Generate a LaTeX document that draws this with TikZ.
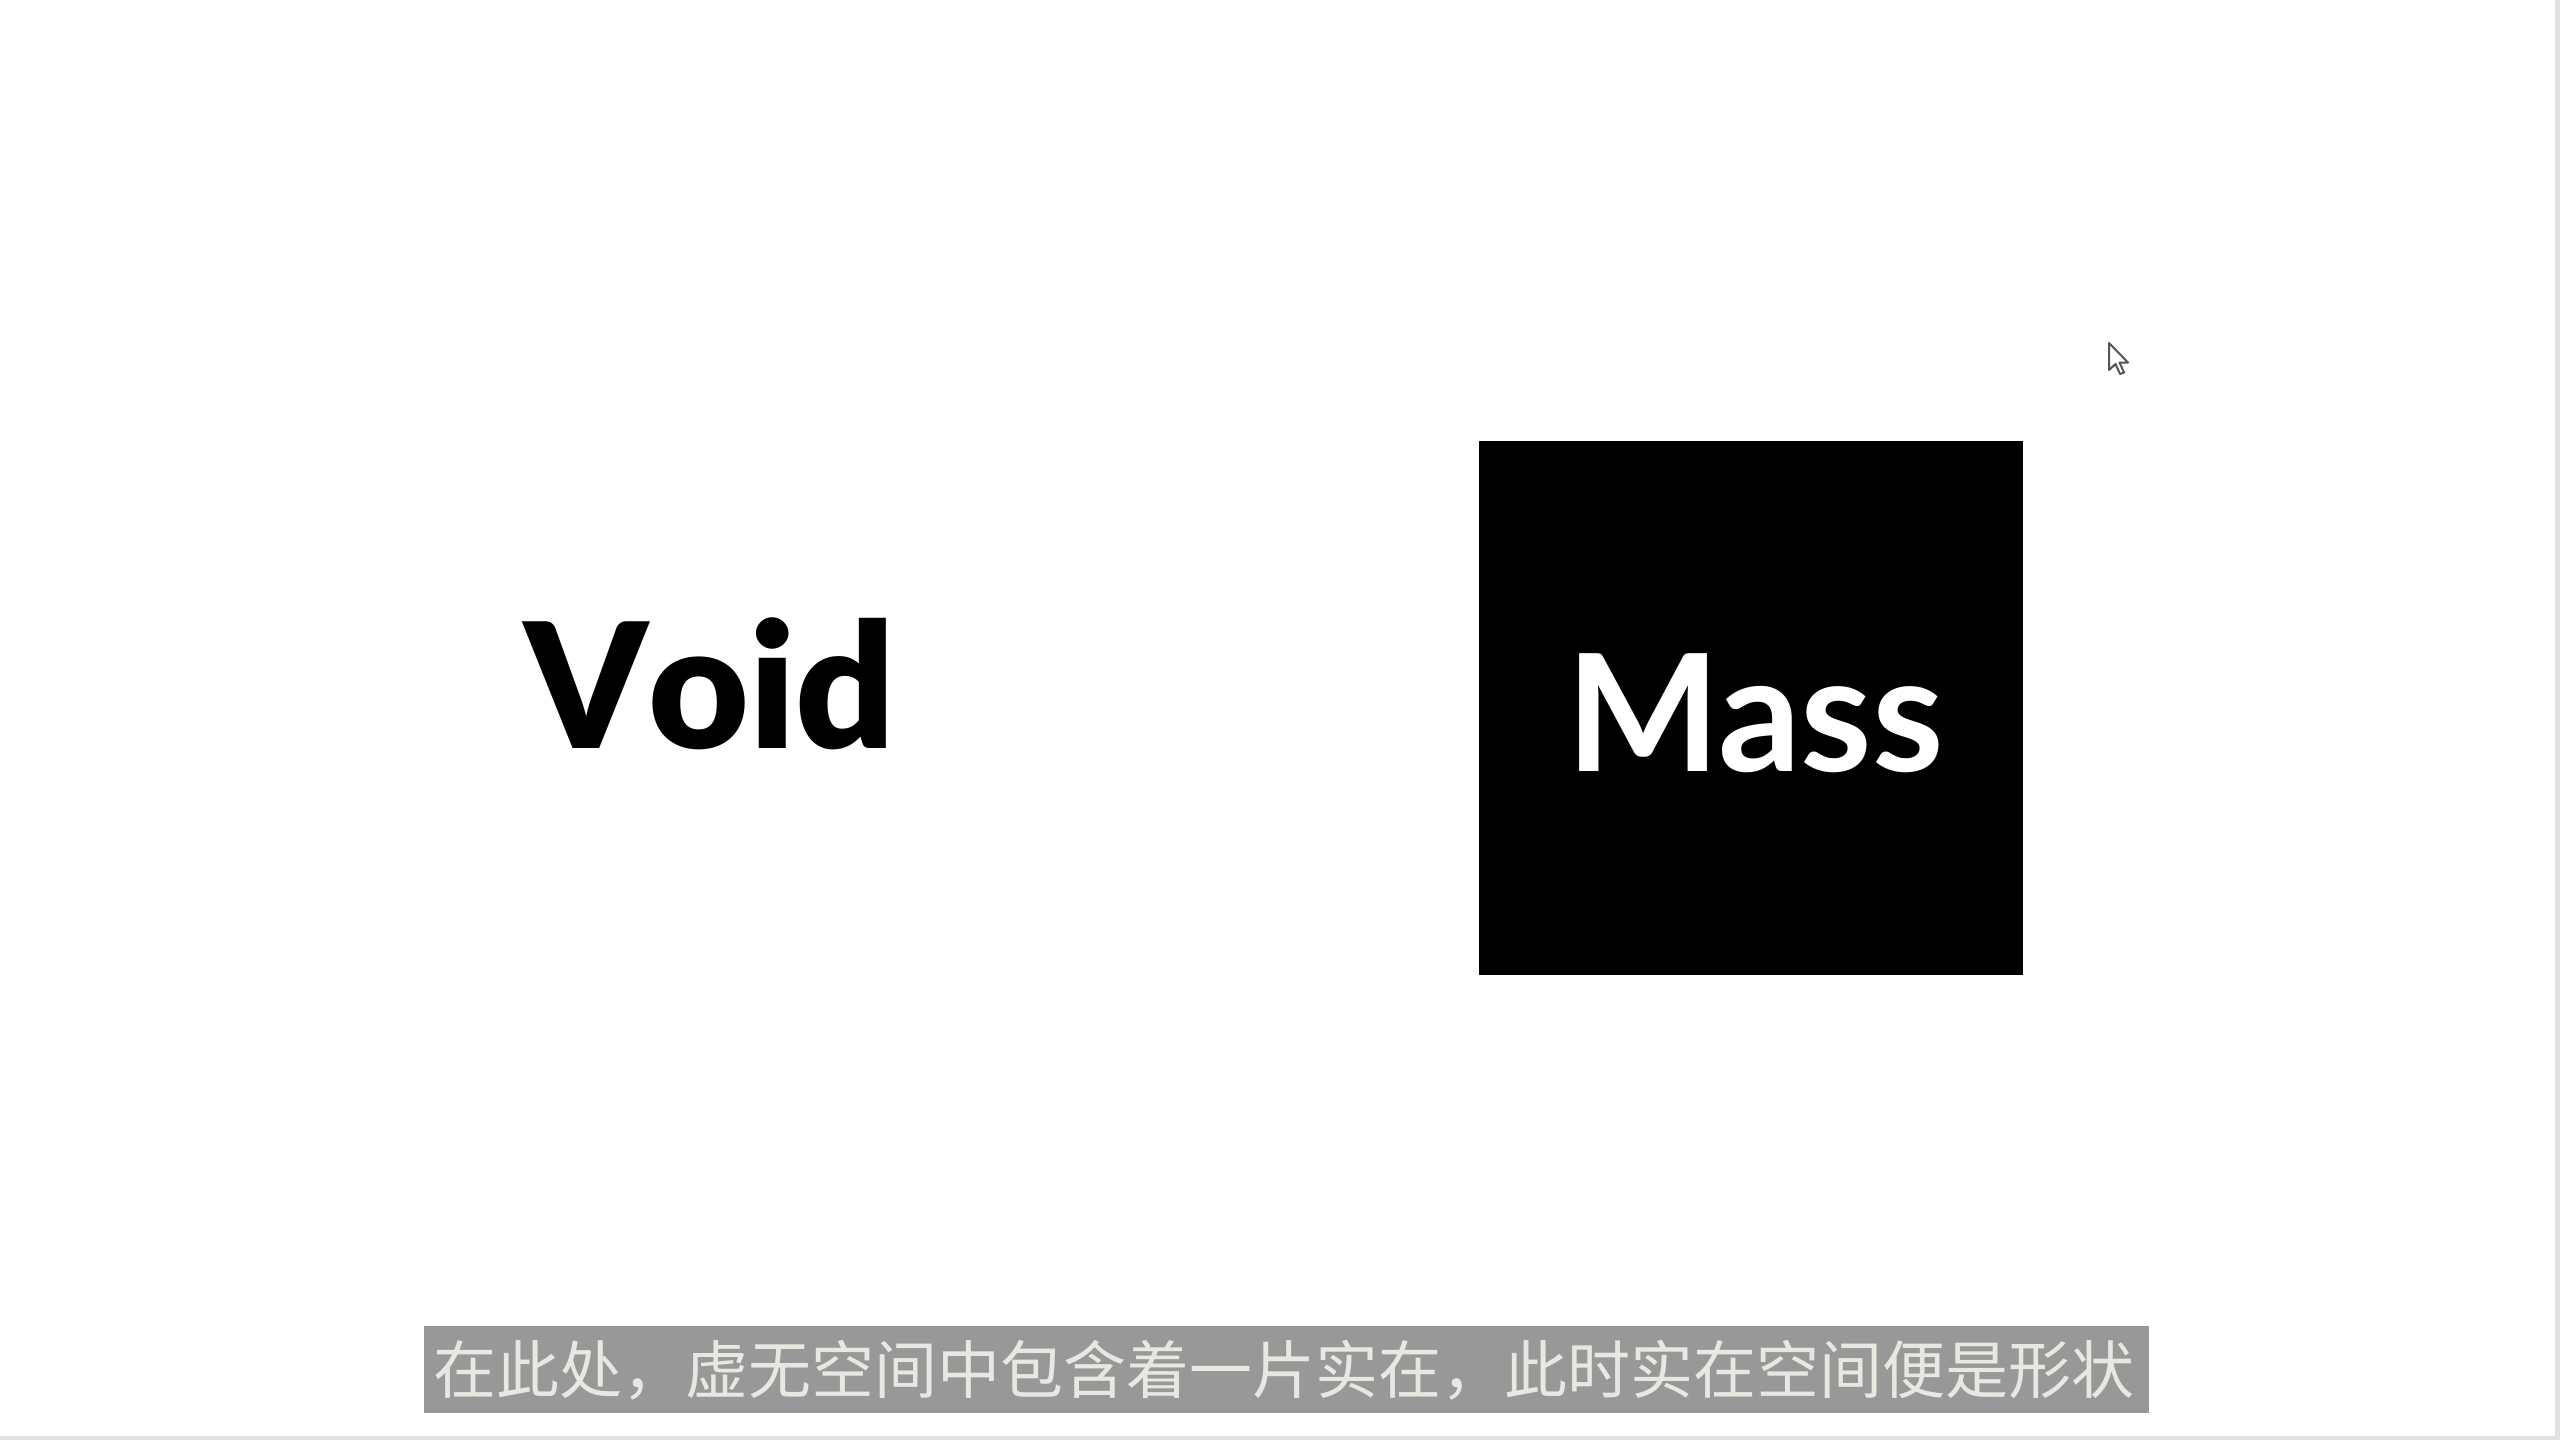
\documentclass[tikz,border=0pt]{standalone}
\usepackage{fontspec}
\setmainfont{Lato}
\newfontfamily\latoheavy[Kerning=Off]{Lato Black}
\newfontfamily\cjk{Noto Sans CJK SC}
\definecolor{subbox}{HTML}{989898}
\definecolor{subtext}{HTML}{E8E8E2}
\definecolor{edgegray}{HTML}{E2E2E2}
\definecolor{cursorgray}{HTML}{555555}
\tikzset{
  bigword/.style={inner sep=0pt, anchor=base, font=\bfseries\fontsize{178}{178}\selectfont},
}
\begin{document}
\begin{tikzpicture}[x={(1pt,0)}, y={(0,-1pt)}]
\useasboundingbox (0,0) rectangle (2560,1440);
\fill[white] (0,0) rectangle (2560,1440);
% window edges
\fill[edgegray] (2555,0) rectangle (2560,1440);
\fill[edgegray] (0,1436) rectangle (2560,1440);
% Void
\node[bigword, text=black, font=\latoheavy\fontsize{174}{174}\selectfont] (void) at (710,748) {Void};
% Mass square
\node[fill=black, draw=none, minimum width=544pt, minimum height=534pt, inner sep=0pt, anchor=north west] (square) at (1479,441) {};
\node[bigword, text=white, font=\bfseries\fontsize{163}{163}\selectfont] (mass) at (1755,771) {Mass};
% cursor
\draw[cursorgray, fill=white, line width=2pt, line join=round]
  (2109,343) -- ++(0,27) -- ++(6.5,-6) -- ++(4.5,10) -- ++(4,-1.5) -- ++(-4.5,-10) -- ++(8.5,0) -- cycle;
% subtitle
\node[fill=subbox, minimum width=1725pt, minimum height=87pt, inner sep=0pt, anchor=north west] (subbg) at (424,1326) {};
\node[inner sep=0pt, text=subtext, font=\cjk\fontsize{63}{63}\selectfont] (sub) at (1283.5,1370) {在此处，虚无空间中包含着一片实在，此时实在空间便是形状};
\end{tikzpicture}
\end{document}
